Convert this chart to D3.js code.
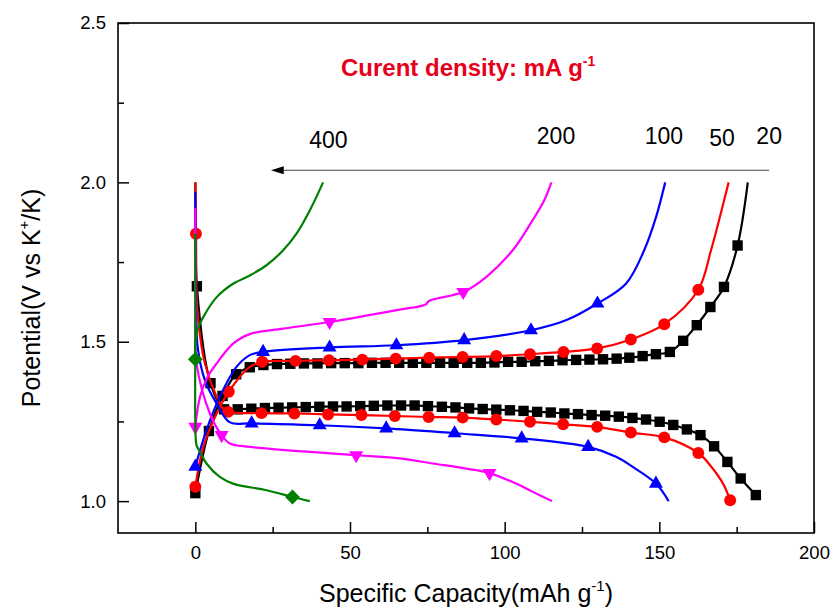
<!DOCTYPE html>
<html>
<head>
<meta charset="utf-8">
<script src="https://cdn.jsdelivr.net/npm/d3@7"></script>
<style>
  body { margin: 0; background: #fff; }
  text { font-family: Arial, "Liberation Sans", sans-serif; fill: #000; }
</style>
</head>
<body>
<svg id="chart" width="835" height="610"></svg>
<script>
// ---- data: [capacity mAh/g, potential V] ----

// 20 mA g-1, black squares
const charge20Marks = [[0,1.025],[4.4,1.220],[8.8,1.330],[13.2,1.398],[17.6,1.420],[22.0,1.427],[26.4,1.430],
  [30.7,1.431],[35.1,1.432],[39.5,1.432],[43.9,1.433],[48.3,1.433],[52.7,1.433],[57.1,1.434],[61.5,1.434],
  [65.9,1.434],[70.3,1.434],[74.7,1.434],[79.1,1.434],[83.5,1.434],[87.9,1.434],[92.3,1.434],[96.7,1.435],
  [101.1,1.437],[105.5,1.437],[109.9,1.439],[114.3,1.440],[118.7,1.442],[123.1,1.443],[127.4,1.444],
  [131.8,1.445],[136.2,1.447],[140.3,1.450],[144.6,1.455],[148.9,1.461],[153.4,1.468],[157.7,1.503],
  [162.1,1.552],[166.5,1.609],[170.9,1.672],[175.3,1.802]];
const charge20Tail = [[178.6,2.0]];
const discharge20Head = [[0,2.0],[0.2,1.82]];
const discharge20Marks = [[0.5,1.674],[4.9,1.370],[9.3,1.288],[13.7,1.288],[18.1,1.290],[22.5,1.292],
  [26.9,1.293],[31.3,1.294],[35.7,1.295],[40.1,1.296],[44.5,1.297],[48.9,1.297],[53.3,1.298],[57.7,1.299],
  [62.1,1.300],[66.5,1.300],[70.9,1.300],[75.2,1.298],[79.7,1.296],[84.1,1.294],[88.5,1.291],[92.9,1.289],
  [97.3,1.287],[101.7,1.285],[106.1,1.283],[110.5,1.280],[114.9,1.278],[119.3,1.275],[123.7,1.273],
  [128.1,1.270],[132.5,1.268],[136.9,1.265],[141.3,1.261],[145.7,1.256],[150.1,1.249],[154.5,1.239],
  [158.9,1.225],[163.3,1.207],[167.7,1.172],[172.0,1.123],[176.3,1.071],[181.2,1.019]];

// 50 mA g-1, red circles
const charge50Marks = [[0,1.045],[10.8,1.343],[21.6,1.437],[32.4,1.440],[43.2,1.442],[54.0,1.444],
  [64.8,1.447],[75.6,1.450],[86.4,1.452],[97.3,1.455],[108.2,1.461],[119.0,1.468],[129.9,1.479],
  [140.8,1.507],[151.6,1.555],[162.6,1.663]];
const charge50Line = [[0,1.045],[2.6,1.170],[6.9,1.275],[10.8,1.343],[17.6,1.421],[21.6,1.437],[32.4,1.440],
  [43.2,1.442],[54.0,1.444],[64.8,1.447],[75.6,1.450],[86.4,1.452],[97.3,1.455],[108.2,1.461],[119.0,1.468],
  [129.9,1.479],[140.8,1.507],[151.6,1.555],[162.6,1.663],[166.7,1.787],[169.8,1.900],[172.4,2.0]];
const discharge50Marks = [[0.2,1.839],[10.6,1.280],[21.4,1.276],[32.0,1.275],[42.9,1.272],[53.7,1.270],
  [64.5,1.267],[75.4,1.264],[86.4,1.262],[97.3,1.256],[108.2,1.249],[118.9,1.241],[129.9,1.233],
  [140.8,1.215],[151.6,1.200],[162.6,1.151],[172.9,1.003]];
const discharge50Line = [[0,2.0],[0.2,1.839],[0.5,1.620],[1.5,1.520],[3.1,1.432],[6.9,1.327],[9.0,1.290],
  [10.6,1.280],[21.4,1.276],[32.0,1.275],[42.9,1.272],[53.7,1.270],[64.5,1.267],[75.4,1.264],[86.4,1.262],
  [97.3,1.256],[108.2,1.249],[118.9,1.241],[129.9,1.233],[140.8,1.215],[151.6,1.200],[162.6,1.151],
  [166.8,1.108],[170.6,1.055],[172.9,1.003]];

// 100 mA g-1, blue triangles
const charge100Marks = [[0,1.108],[21.9,1.468],[43.4,1.482],[65.0,1.489],[86.9,1.505],[108.5,1.536],[130.0,1.620]];
const charge100Line = [[0,1.108],[3.6,1.223],[7.9,1.327],[13.3,1.421],[17.6,1.458],[21.9,1.468],[43.4,1.482],
  [65.0,1.489],[86.9,1.505],[108.5,1.536],[120.0,1.568],[130.0,1.620],[139.2,1.682],[145.1,1.787],
  [148.9,1.890],[151.9,2.0]];
const discharge100Marks = [[18.2,1.244],[40.2,1.238],[61.7,1.228],[83.8,1.213],[105.5,1.197],[127.0,1.170],[148.9,1.055]];
const discharge100Line = [[0,1.97],[0.2,1.60],[0.8,1.480],[3.1,1.379],[6.9,1.306],[11.2,1.247],[18.2,1.244],
  [40.2,1.238],[61.7,1.228],[83.8,1.213],[105.5,1.197],[127.0,1.170],[136.0,1.139],[141.3,1.108],
  [148.9,1.055],[153.0,1.0]];

// 200 mA g-1, magenta down triangles
const charge200Marks = [[0,1.233],[43.4,1.562],[86.6,1.656]];
const charge200Line = [[0,1.233],[1.5,1.327],[4.0,1.390],[6.9,1.432],[12.2,1.494],[17.6,1.524],[28.4,1.541],
  [43.4,1.562],[66.0,1.601],[74.5,1.617],[75.5,1.628],[86.6,1.656],[94.0,1.703],[102.6,1.787],
  [108.0,1.865],[112.8,1.944],[115.1,2.0]];
const discharge200Marks = [[8.5,1.207],[52.0,1.144],[95.1,1.088]];
const discharge200Line = [[0,1.92],[0,1.60],[0.4,1.432],[4.7,1.275],[8.5,1.207],[11.2,1.181],[17.6,1.170],
  [52.0,1.144],[66.0,1.134],[76.8,1.118],[87.6,1.102],[95.1,1.088],[103.7,1.055],[109.1,1.029],[115.3,1.0]];

// 400 mA g-1, green diamonds
const charge400Marks = [[0,1.445]];
const charge400Line = [[0,1.445],[0,1.490],[0.6,1.535],[2.6,1.578],[6.9,1.640],[12.2,1.682],[17.6,1.708],
  [23.0,1.740],[28.4,1.787],[32.7,1.839],[37.0,1.912],[41.3,2.0]];
const discharge400Marks = [[31.4,1.013]];
const discharge400Line = [[0,1.84],[0,1.50],[0,1.25],[0.4,1.175],[1.5,1.155],[3.6,1.118],[7.9,1.076],
  [12.2,1.055],[23.0,1.034],[31.4,1.013],[37.0,1.0]];

const rates = ["20", "50", "100", "200", "400"];
const colors = ["#000000", "#ff0000", "#0000ff", "#ff00ff", "#008000"];

const xTicks = [0, 50, 100, 150, 200];
const xMinor = [25, 75, 125, 175];
const yTicks = [1.0, 1.5, 2.0, 2.5];
const yMinor = [1.25, 1.75, 2.25];

// label positions in data units
const rateLabelPos = [[185.5, 2.119], [170.3, 2.115], [151.5, 2.119], [116.6, 2.119], [43.0, 2.108]];
const arrowFrom = [185.5, 2.038];
const arrowTo = [24.7, 2.038];
const noteAt = [47.1, 2.334];

// ---- layout ----
const margin = { top: 23, right: 21, bottom: 77, left: 118 },
  width = 835 - margin.left - margin.right,
  height = 610 - margin.top - margin.bottom;

const svg = d3.select("#chart");
const g = svg.append("g").attr("transform", `translate(${margin.left},${margin.top})`);

const x = d3.scaleLinear().domain([-25, 200]).range([0, width]);
const y = d3.scaleLinear().domain([0.9, 2.5]).range([height, 0]);

// axes, ticks pointing inward
const xAxis = g.append("g").attr("transform", `translate(0,${height})`)
  .call(d3.axisBottom(x).tickValues(xTicks).tickSize(-11).tickPadding(13).tickFormat(d3.format("d")));
const xAxisMinor = g.append("g").attr("transform", `translate(0,${height})`)
  .call(d3.axisBottom(x).tickValues(xMinor).tickSize(-6).tickFormat(""));
const yAxis = g.append("g")
  .call(d3.axisLeft(y).tickValues(yTicks).tickSize(-11).tickPadding(12).tickFormat(d3.format(".1f")));
const yAxisMinor = g.append("g")
  .call(d3.axisLeft(y).tickValues(yMinor).tickSize(-6).tickFormat(""));

[xAxis, xAxisMinor, yAxis, yAxisMinor].forEach(a => {
  a.select(".domain").remove();
  a.selectAll("line").attr("stroke", "#000").attr("stroke-width", 1.5);
  a.selectAll("text").attr("font-size", "18.5px").attr("fill", "#000")
    .style("font-family", "Arial, 'Liberation Sans', sans-serif");
});

g.append("rect")
  .attr("width", width).attr("height", height)
  .attr("fill", "none").attr("stroke", "#000").attr("stroke-width", 1.6);

// ---- series ----
const lineGen = d3.line()
  .x(d => x(d[0]))
  .y(d => y(d[1]))
  .curve(d3.curveCatmullRom.alpha(0.5));

const seriesTable = [
  { lines: [charge20Marks.concat(charge20Tail), discharge20Head.concat(discharge20Marks)],
    marks: charge20Marks.concat(discharge20Marks), shape: "square" },
  { lines: [charge50Line, discharge50Line], marks: charge50Marks.concat(discharge50Marks), shape: "circle" },
  { lines: [charge100Line, discharge100Line], marks: charge100Marks.concat(discharge100Marks), shape: "up" },
  { lines: [charge200Line, discharge200Line], marks: charge200Marks.concat(discharge200Marks), shape: "down" },
  { lines: [charge400Line, discharge400Line], marks: charge400Marks.concat(discharge400Marks), shape: "diamond" }
];

function symbolPath(shape) {
  if (shape === "square") return d3.symbol(d3.symbolSquare, 108)();
  if (shape === "circle") return d3.symbol(d3.symbolCircle, 112)();
  if (shape === "diamond") return d3.symbol(d3.symbolSquare, 110)();
  return d3.symbol(d3.symbolTriangle, 85)();
}
function symbolRotate(shape) {
  if (shape === "down") return 180;
  if (shape === "diamond") return 45;
  return 0;
}

const plot = g.append("g");
seriesTable.forEach((s, i) => {
  const sg = plot.append("g");
  sg.selectAll("path.curve")
    .data(s.lines)
    .enter()
    .append("path")
      .attr("class", "curve")
      .attr("fill", "none")
      .attr("stroke", colors[i])
      .attr("stroke-width", 2.2)
      .attr("stroke-linejoin", "round")
      .attr("d", lineGen);

  sg.selectAll("path.mark")
    .data(s.marks)
    .enter()
    .append("path")
      .attr("class", "mark")
      .attr("fill", colors[i])
      .attr("d", symbolPath(s.shape))
      .attr("transform", d => `translate(${x(d[0])},${y(d[1])}) rotate(${symbolRotate(s.shape)})`);
});

// ---- annotations ----
svg.append("defs").append("marker")
  .attr("id", "head")
  .attr("viewBox", "0 0 13 8")
  .attr("refX", 0).attr("refY", 4)
  .attr("markerWidth", 13).attr("markerHeight", 8)
  .attr("markerUnits", "userSpaceOnUse")
  .attr("orient", "auto-start-reverse")
  .append("path")
    .attr("d", "M0,0 L13,4 L0,8 Z")
    .attr("fill", "#000");

g.append("line")
  .attr("x1", x(arrowFrom[0])).attr("y1", y(arrowFrom[1]))
  .attr("x2", x(arrowTo[0]) + 12).attr("y2", y(arrowTo[1]))
  .attr("stroke", "#444").attr("stroke-width", 1.2)
  .attr("marker-end", "url(#head)");

g.selectAll("text.rate")
  .data(rates)
  .enter()
  .append("text")
    .attr("class", "rate")
    .attr("x", (d, i) => x(rateLabelPos[i][0]))
    .attr("y", (d, i) => y(rateLabelPos[i][1]))
    .attr("text-anchor", "middle")
    .attr("font-size", "23px")
    .text(d => d);

const note = g.append("text")
  .attr("x", x(noteAt[0])).attr("y", y(noteAt[1]))
  .attr("font-size", "24px").attr("font-weight", "bold")
  .style("fill", "#e8001a");
note.append("tspan").text("Curent density: mA g");
note.append("tspan").attr("font-size", "14px").attr("dy", -10).text("-1");

// axis titles
const xTitle = g.append("text")
  .attr("x", width / 2).attr("y", height + 69)
  .attr("text-anchor", "middle")
  .attr("font-size", "25px");
xTitle.append("tspan").text("Specific Capacity(mAh g");
xTitle.append("tspan").attr("font-size", "15px").attr("dy", -11).text("-1");
xTitle.append("tspan").attr("dy", 11).text(")");

const yTitle = g.append("text")
  .attr("transform", `translate(${40 - margin.left},275) rotate(-90)`)
  .attr("text-anchor", "middle")
  .attr("font-size", "25px");
yTitle.append("tspan").text("Potential(V vs K");
yTitle.append("tspan").attr("font-size", "15px").attr("dy", -11).text("+");
yTitle.append("tspan").attr("dy", 11).text("/K)");
</script>
</body>
</html>
